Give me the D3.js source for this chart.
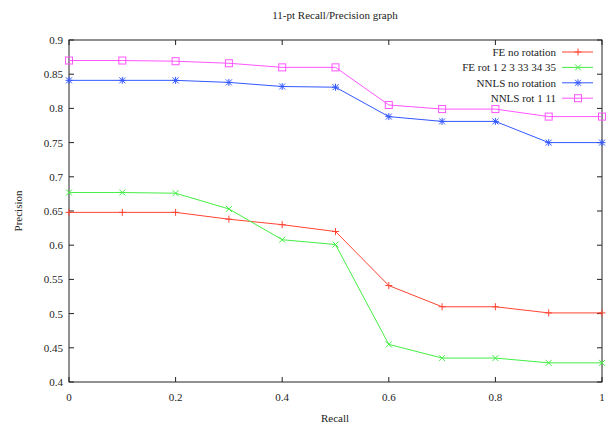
<!DOCTYPE html>
<html><head><meta charset="utf-8">
<script src="https://cdn.jsdelivr.net/npm/d3@7"></script>
<style>body{margin:0;background:#fff}svg{display:block}text{font-family:"Liberation Serif","Times New Roman",serif;font-size:11px;fill:#222}</style>
</head><body>
<svg id="c" width="610" height="423"></svg>
<script>
const recall = [0,0.1,0.2,0.3,0.4,0.5,0.6,0.7,0.8,0.9,1];
const seriesNames = ["FE no rotation","FE rot 1 2 3 33 34 35","NNLS no rotation","NNLS rot 1 11"];
const feNoRot = [0.648,0.648,0.648,0.638,0.630,0.620,0.541,0.510,0.510,0.501,0.501];
const feRot = [0.677,0.677,0.676,0.653,0.608,0.601,0.455,0.435,0.435,0.428,0.428];
const nnlsNoRot = [0.841,0.841,0.841,0.838,0.832,0.831,0.788,0.781,0.781,0.750,0.750];
const nnlsRot = [0.870,0.870,0.869,0.866,0.860,0.860,0.805,0.799,0.799,0.788,0.788];
const xTicks = [0,0.2,0.4,0.6,0.8,1];
const yTicks = [0.4,0.45,0.5,0.55,0.6,0.65,0.7,0.75,0.8,0.85,0.9];
const colors = ["#ff4433","#44ee44","#3358ff","#ff55ff"];
const markers = ["plus","cross","star","square"];

const svg = d3.select("#c");
const L=69,R=602,T=40,B=382;
const x = d3.scaleLinear().domain([0,1]).range([L,R]);
const y = d3.scaleLinear().domain([0.4,0.9]).range([B,T]);
const tl = 5;

const g = svg.append("g");
xTicks.forEach(v=>{
  g.append("line").attr("x1",x(v)).attr("x2",x(v)).attr("y1",B).attr("y2",B-tl).attr("stroke","#222");
  g.append("line").attr("x1",x(v)).attr("x2",x(v)).attr("y1",T).attr("y2",T+tl).attr("stroke","#222");
  g.append("text").attr("x",x(v)).attr("y",B+19).attr("text-anchor","middle").text(d3.format("")(v));
});
yTicks.forEach(v=>{
  g.append("line").attr("x1",L).attr("x2",L+tl).attr("y1",y(v)).attr("y2",y(v)).attr("stroke","#222");
  g.append("line").attr("x1",R).attr("x2",R-tl).attr("y1",y(v)).attr("y2",y(v)).attr("stroke","#222");
  g.append("text").attr("x",L-6).attr("y",y(v)+4).attr("text-anchor","end").text(d3.format("")(+v.toFixed(2)));
});
svg.append("rect").attr("x",L).attr("y",T).attr("width",R-L).attr("height",B-T).attr("fill","none").attr("stroke","#222").attr("stroke-width",1);

function marker(sel,type,cx,cy,col){
  const s=3.5;
  if(type==="plus"||type==="star"){
    sel.append("line").attr("x1",cx-s).attr("x2",cx+s).attr("y1",cy).attr("y2",cy).attr("stroke",col);
    sel.append("line").attr("x1",cx).attr("x2",cx).attr("y1",cy-s).attr("y2",cy+s).attr("stroke",col);
  }
  if(type==="cross"||type==="star"){
    const k=3;
    sel.append("line").attr("x1",cx-k).attr("x2",cx+k).attr("y1",cy-k).attr("y2",cy+k).attr("stroke",col);
    sel.append("line").attr("x1",cx-k).attr("x2",cx+k).attr("y1",cy+k).attr("y2",cy-k).attr("stroke",col);
  }
  if(type==="square"){
    sel.append("rect").attr("x",cx-3.5).attr("y",cy-3.5).attr("width",7).attr("height",7).attr("fill","none").attr("stroke",col);
  }
}

const data=[feNoRot,feRot,nnlsNoRot,nnlsRot];
const line=d3.line().x((d,i)=>x(recall[i])).y(d=>y(d));
data.forEach((vals,si)=>{
  const sg=svg.append("g");
  sg.append("path").attr("d",line(vals)).attr("fill","none").attr("stroke",colors[si]).attr("stroke-width",1);
  vals.forEach((v,i)=>marker(sg,markers[si],x(recall[i]),y(v),colors[si]));
});

seriesNames.forEach((n,i)=>{
  const ly=52+i*15.4;
  svg.append("text").attr("x",556).attr("y",ly+4).attr("text-anchor","end").text(n);
  svg.append("line").attr("x1",562).attr("x2",593).attr("y1",ly).attr("y2",ly).attr("stroke",colors[i]);
  marker(svg.append("g"),markers[i],578,ly,colors[i]);
});

svg.append("text").attr("x",335).attr("y",19).attr("text-anchor","middle").text("11-pt Recall/Precision graph");
svg.append("text").attr("x",335).attr("y",422).attr("text-anchor","middle").text("Recall");
svg.append("text").attr("transform","translate(22,211) rotate(-90)").attr("text-anchor","middle").text("Precision");
</script>
</body></html>
